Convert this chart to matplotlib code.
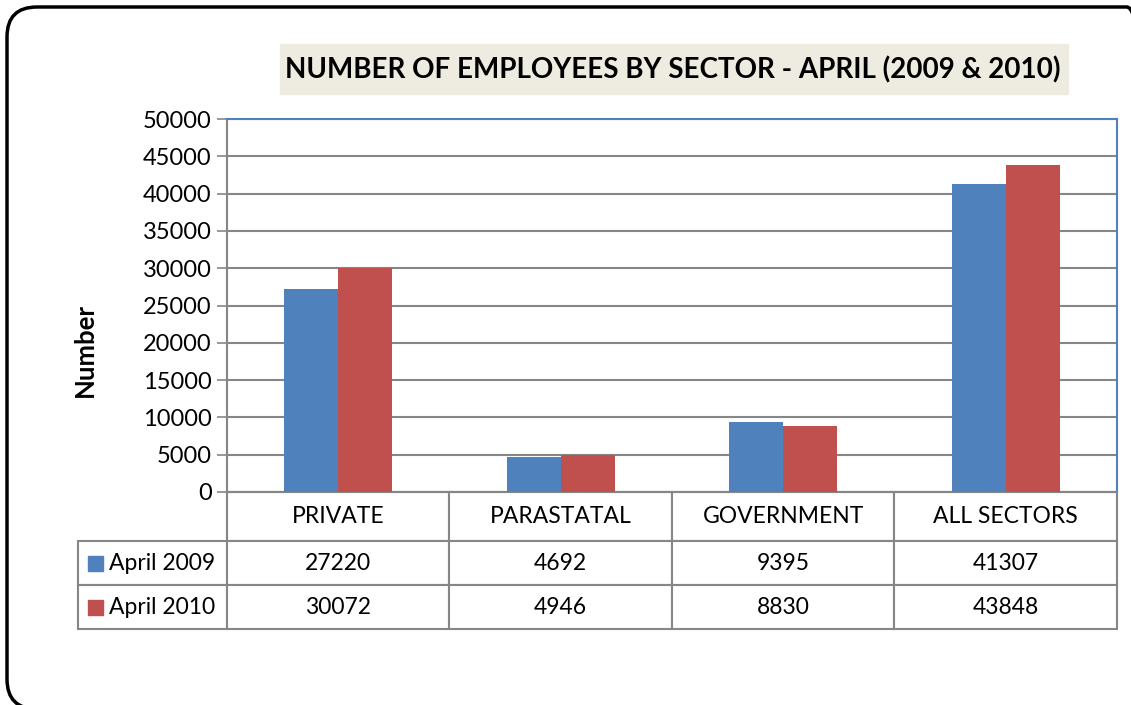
import matplotlib.pyplot as plt
import numpy as np
from matplotlib.patches import FancyBboxPatch, Rectangle
from matplotlib.table import Table
from matplotlib.transforms import Affine2D

plt.rcParams['font.family'] = ['Lato', 'DejaVu Sans']

sectors = ['PRIVATE', 'PARASTATAL', 'GOVERNMENT', 'ALL SECTORS']
series_names = ['April 2009', 'April 2010']
april_2009 = [27220, 4692, 9395, 41307]
april_2010 = [30072, 4946, 8830, 43848]
colors = ['#4F81BD', '#C0504D']

W, H = 1131, 705
fig = plt.figure(figsize=(W / 100, H / 100), dpi=100)

# outer rounded frame in pixel units (runs off the right / bottom edge)
px = Affine2D().scale(1 / W, 1 / H) + fig.transFigure
frame = FancyBboxPatch((7, -4), 1150, 702, boxstyle="round,pad=0,rounding_size=30",
                       transform=px, fill=False, edgecolor='black', linewidth=2.5)
fig.patches.append(frame)

ax = fig.add_axes([227 / W, 1 - 492 / H, 890 / W, 373 / H])

x = np.arange(len(sectors))
bw = 0.243
ax.bar(x - bw / 2, april_2009, bw, color=colors[0], zorder=3)
ax.bar(x + bw / 2, april_2010, bw, color=colors[1], zorder=3)

ax.set_xlim(-0.5, len(sectors) - 0.5)
ax.set_ylim(0, 50000)
ax.set_yticks(np.arange(0, 50001, 5000))
ax.set_xticks([])
ax.tick_params(axis='y', length=7, width=1.2, color='#868686', labelsize=17, pad=4)
ax.yaxis.grid(True, color='#868686', linewidth=1.5, zorder=0)
for side in ['left', 'bottom']:
    ax.spines[side].set_color('#868686')
    ax.spines[side].set_linewidth(1.5)
for side in ['top', 'right']:
    ax.spines[side].set_color('#4F81BD')
    ax.spines[side].set_linewidth(1.5)

# data table under the chart: column 0 holds the series names
lab_w = 149 / 890
hdr_h = 49 / 373
row_h = 44 / 373
tot_h = hdr_h + 2 * row_h
tab = Table(ax, bbox=[-lab_w, -tot_h, 1 + lab_w, tot_h])
for j, s in enumerate(sectors):
    tab.add_cell(0, j + 1, width=0.25, height=hdr_h, text=s, loc='center')
for i, vals in enumerate([april_2009, april_2010]):
    tab.add_cell(i + 1, 0, width=lab_w, height=row_h, text='')
    for j, v in enumerate(vals):
        tab.add_cell(i + 1, j + 1, width=0.25, height=row_h, text=str(v), loc='center')
tab.auto_set_font_size(False)
tab.set_fontsize(16.5)
for cell in tab.get_celld().values():
    cell.set_edgecolor('#868686')
    cell.set_linewidth(1.5)
ax.add_table(tab)

# legend keys inside the row label cells
for i, name in enumerate(series_names):
    yc = -hdr_h - row_h * (i + 0.5)
    ax.add_patch(Rectangle(((88 - 227) / 890, yc - 7.5 / 373), 15 / 890, 15 / 373,
                           transform=ax.transAxes, color=colors[i], clip_on=False))
    ax.text((109 - 227) / 890, yc, name, transform=ax.transAxes,
            fontsize=16.5, va='center', ha='left')

# title with shaded box
fig.patches.append(Rectangle((280 / W, 1 - 94 / H), 788 / W, 50 / H,
                             transform=fig.transFigure, color='#EEECE1'))
fig.text(673 / W, 1 - 70 / H, 'NUMBER OF EMPLOYEES BY SECTOR - APRIL (2009 & 2010)',
         ha='center', va='center', fontsize=20, fontweight='bold')

fig.text(85 / W, 1 - 350 / H, 'Number', rotation=90, ha='center', va='center',
         fontsize=18.5, fontweight='bold')

fig.savefig('out.png', dpi=100)
